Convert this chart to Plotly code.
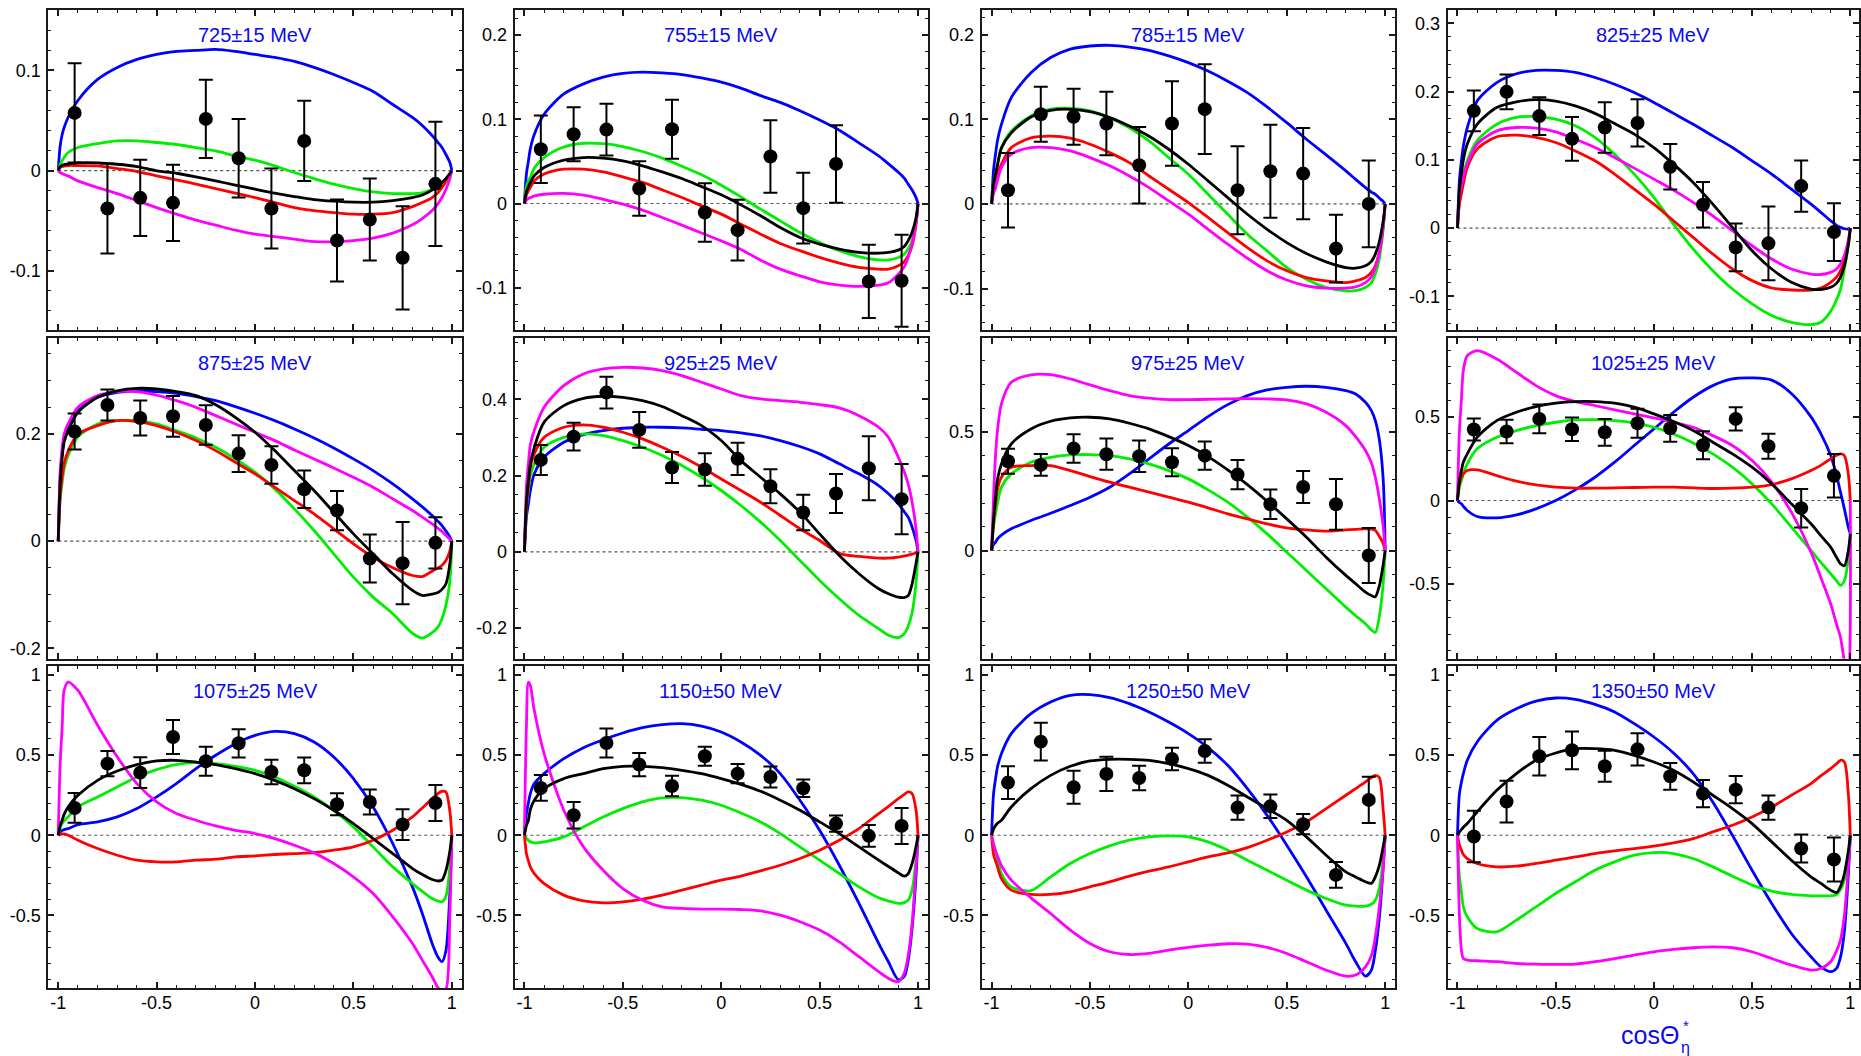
import plotly.graph_objects as go

# ---------------- data ----------------
X_PTS = [-0.9167, -0.75, -0.5833, -0.4167, -0.25, -0.0833, 0.0833, 0.25, 0.4167, 0.5833, 0.75, 0.9167]
X_GRID = [-1, -0.99, -0.98, -0.97, -0.95, -0.9, -0.8, -0.7, -0.6, -0.5, -0.4, -0.3, -0.2, -0.1, 0,
          0.1, 0.2, 0.3, 0.4, 0.5, 0.6, 0.7, 0.8, 0.85, 0.9, 0.93, 0.95, 0.97, 0.99, 1]

TITLES = ["725\u00b115 MeV", "755\u00b115 MeV", "785\u00b115 MeV", "825\u00b125 MeV",
          "875\u00b125 MeV", "925\u00b125 MeV", "975\u00b125 MeV", "1025\u00b125 MeV",
          "1075\u00b125 MeV", "1150\u00b150 MeV", "1250\u00b150 MeV", "1350\u00b150 MeV"]

X_TICKS = [-1, -0.5, 0, 0.5, 1]
X_TICKTEXT = ["-1", "-0.5", "0", "0.5", "1"]

# panel 1: 725 MeV
P1_Y = [0.0576, -0.038, -0.0273, -0.0323, 0.0516, 0.0123, -0.038, 0.0296, -0.0699, -0.049, -0.0872, -0.0133]
P1_E = [0.0496, 0.045, 0.038, 0.038, 0.039, 0.0393, 0.040, 0.040, 0.041, 0.041, 0.0516, 0.062]
P1_BLUE = [0, 0.025, 0.036, 0.043, 0.053, 0.07, 0.091, 0.103, 0.111, 0.116, 0.119, 0.120, 0.121, 0.119, 0.116,
           0.113, 0.109, 0.103, 0.096, 0.088, 0.079, 0.066, 0.053, 0.045, 0.035, 0.028, 0.023, 0.016, 0.008, 0]
P1_GREEN = [0, 0.006, 0.01, 0.013, 0.018, 0.023, 0.027, 0.0296, 0.0296, 0.028, 0.026, 0.023, 0.0196, 0.0146, 0.0103,
            0.0047, -0.002, -0.008, -0.0136, -0.018, -0.0213, -0.023, -0.023, -0.0222, -0.0186, -0.0155, -0.012, -0.008, -0.003, 0]
P1_BLACK = [0, 0.004, 0.005, 0.006, 0.0065, 0.0077, 0.0077, 0.0063, 0.004, -0.0003, -0.0027, -0.0063, -0.0103, -0.0146, -0.0186,
            -0.0226, -0.026, -0.029, -0.0306, -0.0316, -0.0316, -0.030, -0.027, -0.0245, -0.0196, -0.0155, -0.012, -0.008, -0.003, 0]
P1_RED = [0, 0.003, 0.004, 0.0045, 0.005, 0.005, 0.0047, 0.002, -0.001, -0.0053, -0.0093, -0.0136, -0.018, -0.0226, -0.027,
          -0.032, -0.037, -0.040, -0.042, -0.0436, -0.0436, -0.042, -0.036, -0.032, -0.027, -0.022, -0.017, -0.011, -0.004, 0]
P1_MAGENTA = [0, -0.002, -0.003, -0.004, -0.0053, -0.0103, -0.017, -0.023, -0.030, -0.037, -0.0436, -0.0496, -0.0546, -0.0596, -0.0636,
              -0.066, -0.0686, -0.071, -0.0712, -0.070, -0.0676, -0.0626, -0.0542, -0.048, -0.040, -0.033, -0.027, -0.019, -0.008, 0]

# panel 2: 755 MeV
P2_Y = [0.0644, 0.0822, 0.0877, 0.0178, 0.0881, -0.0107, -0.0316, 0.0557, -0.0055, 0.047, -0.0925, -0.0917]
P2_E = [0.040, 0.032, 0.0308, 0.0324, 0.035, 0.0348, 0.036, 0.043, 0.042, 0.046, 0.0435, 0.0545]
P2_BLUE = [0, 0.035, 0.05, 0.065, 0.082, 0.106, 0.13, 0.142, 0.150, 0.1545, 0.156, 0.155, 0.153, 0.149, 0.144,
           0.137, 0.128, 0.12, 0.110, 0.099, 0.087, 0.072, 0.0565, 0.047, 0.037, 0.03, 0.023, 0.016, 0.007, 0]
P2_GREEN = [0, 0.02, 0.027, 0.031, 0.042, 0.0545, 0.067, 0.0715, 0.071, 0.0676, 0.0617, 0.0538, 0.0443, 0.034, 0.0217,
            0.0079, -0.0067, -0.0206, -0.0344, -0.0462, -0.056, -0.063, -0.067, -0.067, -0.064, -0.06, -0.054, -0.044, -0.022, 0]
P2_BLACK = [0, 0.014, 0.02, 0.025, 0.033, 0.0427, 0.0514, 0.0545, 0.0538, 0.0506, 0.0447, 0.0375, 0.0296, 0.020, 0.0103,
            -0.0016, -0.0146, -0.0285, -0.0403, -0.0482, -0.054, -0.058, -0.059, -0.058, -0.0553, -0.051, -0.044, -0.034, -0.017, 0]
P2_RED = [0, 0.01, 0.015, 0.019, 0.027, 0.035, 0.0407, 0.0407, 0.0375, 0.0316, 0.025, 0.0162, 0.0071, -0.0028, -0.0126,
          -0.0245, -0.0364, -0.0474, -0.056, -0.064, -0.0708, -0.0759, -0.0779, -0.078, -0.074, -0.069, -0.062, -0.05, -0.025, 0]
P2_MAGENTA = [0, 0.004, 0.006, 0.007, 0.009, 0.011, 0.012, 0.0099, 0.005, -0.0008, -0.0079, -0.0166, -0.0257, -0.035, -0.0443,
              -0.0545, -0.0672, -0.0779, -0.0858, -0.0929, -0.0968, -0.0984, -0.0968, -0.094, -0.0838, -0.075, -0.064, -0.048, -0.022, 0]

# panel 3: 785 MeV
P3_Y = [0.0161, 0.106, 0.103, 0.095, 0.0457, 0.095, 0.112, 0.0161, 0.0386, 0.0358, -0.0528, 0.0]
P3_E = [0.044, 0.0325, 0.033, 0.0374, 0.0453, 0.050, 0.053, 0.052, 0.055, 0.054, 0.040, 0.0512]
P3_BLUE = [0, 0.04, 0.0587, 0.075, 0.094, 0.1256, 0.155, 0.173, 0.183, 0.1866, 0.1874, 0.1854, 0.1815, 0.175, 0.167,
           0.157, 0.145, 0.1315, 0.1146, 0.096, 0.0764, 0.0579, 0.039, 0.029, 0.0193, 0.014, 0.0114, 0.007, 0.003, 0]
P3_GREEN = [0, 0.024, 0.035, 0.046, 0.0665, 0.086, 0.104, 0.112, 0.113, 0.11, 0.102, 0.090, 0.0744, 0.0547, 0.035,
            0.0114, -0.0122, -0.0358, -0.0555, -0.0752, -0.089, -0.0988, -0.1028, -0.1025, -0.0988, -0.093, -0.083, -0.065, -0.03, 0]
P3_BLACK = [0, 0.024, 0.035, 0.046, 0.066, 0.084, 0.1028, 0.1106, 0.1118, 0.109, 0.102, 0.092, 0.080, 0.0646, 0.0469,
            0.0272, 0.0075, -0.0122, -0.030, -0.0457, -0.0587, -0.0685, -0.0752, -0.076, -0.0732, -0.068, -0.0594, -0.045, -0.02, 0]
P3_RED = [0, 0.018, 0.027, 0.035, 0.0469, 0.0665, 0.078, 0.080, 0.0776, 0.0705, 0.0606, 0.0488, 0.033, 0.0173, 0.0016,
          -0.016, -0.034, -0.0516, -0.0673, -0.079, -0.087, -0.091, -0.093, -0.091, -0.087, -0.081, -0.073, -0.057, -0.026, 0]
P3_MAGENTA = [0, 0.012, 0.019, 0.028, 0.043, 0.0587, 0.0665, 0.0665, 0.0626, 0.0547, 0.045, 0.033, 0.0193, 0.0035, -0.0122,
              -0.030, -0.0476, -0.0642, -0.079, -0.090, -0.0969, -0.0996, -0.0996, -0.098, -0.093, -0.086, -0.075, -0.058, -0.026, 0]

# panel 4: 825 MeV
P4_Y = [0.1717, 0.1995, 0.164, 0.1307, 0.1473, 0.154, 0.0898, 0.0341, -0.0283, -0.0224, 0.0615, -0.0059]
P4_E = [0.0298, 0.0256, 0.0276, 0.032, 0.037, 0.0346, 0.0332, 0.0334, 0.035, 0.054, 0.0376, 0.0424]
P4_BLUE = [0, 0.07, 0.0985, 0.12, 0.147, 0.186, 0.213, 0.226, 0.231, 0.231, 0.228, 0.2205, 0.2107, 0.1985, 0.184,
           0.168, 0.152, 0.135, 0.118, 0.0985, 0.079, 0.057, 0.035, 0.023, 0.0107, 0.004, 0.001, -0.001, -0.0015, 0]
P4_GREEN = [0, 0.04, 0.0595, 0.078, 0.0985, 0.128, 0.152, 0.162, 0.1634, 0.1595, 0.150, 0.1327, 0.108, 0.079, 0.0449,
            0.0059, -0.0307, -0.0624, -0.0893, -0.111, -0.128, -0.138, -0.1415, -0.138, -0.122, -0.105, -0.09, -0.06, -0.025, 0]
P4_BLACK = [0, 0.055, 0.079, 0.1, 0.123, 0.152, 0.1766, 0.185, 0.188, 0.186, 0.179, 0.168, 0.153, 0.1376, 0.118,
            0.0937, 0.0668, 0.035, 0.001, -0.0332, -0.060, -0.0795, -0.0893, -0.09, -0.0868, -0.081, -0.072, -0.055, -0.025, 0]
P4_RED = [0, 0.035, 0.05, 0.065, 0.0888, 0.1156, 0.1337, 0.136, 0.1327, 0.1254, 0.113, 0.0985, 0.079, 0.057, 0.035,
          0.0107, -0.0137, -0.038, -0.060, -0.077, -0.0878, -0.0907, -0.0907, -0.088, -0.0795, -0.072, -0.0624, -0.048, -0.022, 0]
P4_MAGENTA = [0, 0.045, 0.062, 0.075, 0.0937, 0.123, 0.1424, 0.1473, 0.1463, 0.141, 0.130, 0.118, 0.1034, 0.0878, 0.0717,
              0.0556, 0.0376, 0.018, -0.0039, -0.0259, -0.0454, -0.060, -0.0673, -0.068, -0.0649, -0.06, -0.0527, -0.04, -0.018, 0]

# panel 5: 875 MeV
P5_Y = [0.2047, 0.2544, 0.230, 0.2333, 0.217, 0.1636, 0.1425, 0.097, 0.0572, -0.0323, -0.041, -0.0031]
P5_E = [0.0336, 0.029, 0.0327, 0.038, 0.0367, 0.0345, 0.035, 0.035, 0.0367, 0.045, 0.0766, 0.048]
P5_BLUE = [0, 0.12, 0.163, 0.19, 0.2127, 0.244, 0.2687, 0.278, 0.281, 0.2793, 0.276, 0.270, 0.2625, 0.2513, 0.2389,
           0.2252, 0.2096, 0.1928, 0.1742, 0.1537, 0.1319, 0.107, 0.079, 0.064, 0.0479, 0.037, 0.0292, 0.019, 0.008, 0]
P5_GREEN = [0, 0.08, 0.11, 0.135, 0.16, 0.195, 0.219, 0.2252, 0.2252, 0.219, 0.2065, 0.1928, 0.1754, 0.1537, 0.1288,
            0.0977, 0.0603, 0.0199, -0.0236, -0.0672, -0.1045, -0.1356, -0.172, -0.181, -0.171, -0.16, -0.145, -0.12, -0.075, 0]
P5_BLACK = [0, 0.11, 0.1568, 0.185, 0.2065, 0.2407, 0.2687, 0.281, 0.2855, 0.2843, 0.2793, 0.2718, 0.255, 0.2314, 0.2034,
            0.1692, 0.1319, 0.0946, 0.0541, 0.0137, -0.0236, -0.061, -0.092, -0.1014, -0.099, -0.096, -0.09, -0.08, -0.042, 0]
P5_RED = [0, 0.085, 0.12, 0.145, 0.168, 0.2, 0.2159, 0.2252, 0.2233, 0.2159, 0.2034, 0.1879, 0.1692, 0.1474, 0.1257,
          0.1008, 0.0759, 0.051, 0.023, -0.005, -0.0299, -0.0498, -0.0641, -0.066, -0.056, -0.05, -0.045, -0.036, -0.018, 0]
P5_MAGENTA = [0, 0.13, 0.1754, 0.2, 0.219, 0.25, 0.2718, 0.2793, 0.2793, 0.273, 0.2625, 0.25, 0.2345, 0.219, 0.2034,
              0.1879, 0.1704, 0.1537, 0.1369, 0.1194, 0.1008, 0.079, 0.0572, 0.045, 0.0323, 0.024, 0.018, 0.011, 0.004, 0]

# panel 6: 925 MeV
P6_Y = [0.241, 0.302, 0.4175, 0.3197, 0.221, 0.2157, 0.2437, 0.172, 0.103, 0.1528, 0.2192, 0.138]
P6_E = [0.0393, 0.0367, 0.0415, 0.047, 0.0406, 0.0424, 0.042, 0.0445, 0.0463, 0.051, 0.0838, 0.092]
P6_BLUE = [0, 0.09, 0.1258, 0.16, 0.2044, 0.248, 0.2873, 0.3074, 0.318, 0.324, 0.3266, 0.3266, 0.325, 0.3214, 0.318,
           0.3118, 0.304, 0.2917, 0.276, 0.2568, 0.2306, 0.2044, 0.1738, 0.152, 0.1258, 0.105, 0.0908, 0.065, 0.03, 0]
P6_GREEN = [0, 0.115, 0.1607, 0.2, 0.2306, 0.274, 0.30, 0.309, 0.3048, 0.2917, 0.274, 0.2524, 0.2262, 0.1956, 0.1607,
            0.1214, 0.0777, 0.0297, -0.0227, -0.0751, -0.123, -0.1668, -0.2017, -0.219, -0.225, -0.215, -0.195, -0.16, -0.08, 0]
P6_BLACK = [0, 0.13, 0.187, 0.23, 0.274, 0.34, 0.3834, 0.4026, 0.4079, 0.405, 0.3965, 0.381, 0.357, 0.331, 0.2917,
            0.239, 0.1956, 0.152, 0.104, 0.047, -0.0096, -0.0576, -0.097, -0.11, -0.119, -0.12, -0.115, -0.084, -0.03, 0]
P6_RED = [0, 0.12, 0.169, 0.22, 0.257, 0.30, 0.3266, 0.333, 0.3266, 0.3135, 0.296, 0.274, 0.2498, 0.2218, 0.191,
          0.1607, 0.130, 0.0952, 0.0603, 0.0297, -0.004, -0.0122, -0.0166, -0.0166, -0.014, -0.011, -0.009, -0.006, -0.003, 0]
P6_MAGENTA = [0, 0.17, 0.2306, 0.28, 0.318, 0.379, 0.4358, 0.4664, 0.4795, 0.4838, 0.482, 0.4751, 0.462, 0.4445, 0.427,
              0.4096, 0.4009, 0.3965, 0.392, 0.386, 0.3773, 0.357, 0.3266, 0.3, 0.248, 0.21, 0.178, 0.13, 0.06, 0]

# panel 7: 975 MeV
P7_Y = [0.3764, 0.361, 0.4298, 0.406, 0.3975, 0.372, 0.400, 0.320, 0.195, 0.268, 0.195, -0.021]
P7_E = [0.053, 0.0463, 0.06, 0.066, 0.066, 0.059, 0.06, 0.0618, 0.0625, 0.0674, 0.107, 0.116]
P7_BLUE = [0, 0.025, 0.035, 0.049, 0.065, 0.0913, 0.1264, 0.157, 0.1896, 0.2247, 0.2669, 0.323, 0.386, 0.449, 0.5056,
           0.5646, 0.615, 0.653, 0.677, 0.688, 0.6924, 0.688, 0.674, 0.66, 0.625, 0.59, 0.548, 0.47, 0.3, 0]
P7_GREEN = [0, 0.1, 0.1545, 0.2, 0.2669, 0.323, 0.372, 0.393, 0.403, 0.4045, 0.400, 0.386, 0.365, 0.337, 0.302,
            0.2556, 0.2037, 0.1404, 0.0702, -0.007, -0.0843, -0.1615, -0.2388, -0.275, -0.309, -0.335, -0.345, -0.28, -0.14, 0]
P7_BLACK = [0, 0.13, 0.2247, 0.3, 0.365, 0.449, 0.5126, 0.545, 0.559, 0.5618, 0.5548, 0.5365, 0.5126, 0.480, 0.4424,
            0.396, 0.340, 0.278, 0.2079, 0.1334, 0.0562, -0.0281, -0.105, -0.14, -0.1756, -0.19, -0.195, -0.15, -0.06, 0]
P7_RED = [0, 0.12, 0.1966, 0.26, 0.309, 0.351, 0.358, 0.358, 0.337, 0.3118, 0.288, 0.2669, 0.2458, 0.2247, 0.2037,
          0.1798, 0.1545, 0.1334, 0.1124, 0.0955, 0.0871, 0.0815, 0.0871, 0.089, 0.0913, 0.09, 0.085, 0.06, 0.03, 0]
P7_MAGENTA = [0, 0.2247, 0.4, 0.5056, 0.618, 0.709, 0.740, 0.7416, 0.7233, 0.698, 0.674, 0.653, 0.642, 0.636, 0.636,
              0.6376, 0.639, 0.640, 0.639, 0.635, 0.618, 0.583, 0.5267, 0.48, 0.4213, 0.37, 0.309, 0.22, 0.1, 0]

# panel 8: 1025 MeV
P8_Y = [0.4243, 0.4124, 0.488, 0.4263, 0.408, 0.462, 0.432, 0.3307, 0.488, 0.3247, -0.0458, 0.1474]
P8_E = [0.066, 0.07, 0.086, 0.070, 0.08, 0.087, 0.08, 0.084, 0.07, 0.075, 0.115, 0.13]
P8_BLUE = [0, -0.012, -0.02, -0.035, -0.06, -0.0956, -0.1036, -0.0857, -0.0498, 0, 0.0637, 0.139, 0.229, 0.3287, 0.428,
           0.528, 0.6175, 0.687, 0.727, 0.733, 0.72, 0.64, 0.5, 0.4, 0.27, 0.15, 0.05, -0.05, -0.16, -0.2]
P8_GREEN = [0, 0.08, 0.1195, 0.16, 0.219, 0.309, 0.378, 0.418, 0.448, 0.468, 0.482, 0.484, 0.478, 0.464, 0.438,
            0.398, 0.3446, 0.279, 0.199, 0.0996, -0.02, -0.159, -0.299, -0.37, -0.438, -0.48, -0.508, -0.48, -0.35, -0.26]
P8_BLACK = [0, 0.12, 0.179, 0.23, 0.279, 0.378, 0.478, 0.528, 0.562, 0.582, 0.5916, 0.5916, 0.582, 0.558, 0.518,
            0.472, 0.418, 0.3486, 0.279, 0.199, 0.0996, -0.02, -0.139, -0.21, -0.279, -0.34, -0.378, -0.39, -0.3, -0.2]
P8_RED = [0, 0.1, 0.139, 0.16, 0.179, 0.183, 0.149, 0.1155, 0.0936, 0.0797, 0.0737, 0.0737, 0.0757, 0.0777, 0.0797,
          0.0797, 0.0757, 0.0717, 0.0737, 0.0797, 0.0956, 0.129, 0.179, 0.21, 0.249, 0.27, 0.279, 0.269, 0.159, 0]
P8_MAGENTA = [0, 0.418, 0.6, 0.777, 0.866, 0.896, 0.8466, 0.767, 0.687, 0.6275, 0.5916, 0.5677, 0.5418, 0.518, 0.494,
              0.468, 0.438, 0.388, 0.3287, 0.239, 0.1096, -0.0697, -0.309, -0.46, -0.6175, -0.74, -0.8167, -0.96, -1.05, 0]

# panel 9: 1075 MeV
P9_Y = [0.170, 0.446, 0.390, 0.612, 0.4606, 0.5726, 0.394, 0.4046, 0.193, 0.2075, 0.0664, 0.201]
P9_E = [0.093, 0.079, 0.096, 0.106, 0.09, 0.088, 0.077, 0.08, 0.068, 0.078, 0.096, 0.112]
P9_BLUE = [0, 0.02, 0.03, 0.035, 0.0415, 0.066, 0.083, 0.114, 0.166, 0.2386, 0.3216, 0.415, 0.498, 0.5705, 0.622,
           0.647, 0.633, 0.581, 0.4876, 0.353, 0.176, -0.052, -0.3216, -0.4876, -0.674, -0.76, -0.788, -0.72, -0.36, 0]
P9_GREEN = [0, 0.05, 0.0726, 0.09, 0.114, 0.176, 0.2386, 0.301, 0.363, 0.4087, 0.44, 0.452, 0.446, 0.4295, 0.4046,
            0.363, 0.305, 0.2386, 0.1556, 0.0519, -0.0726, -0.197, -0.301, -0.35, -0.394, -0.41, -0.415, -0.38, -0.2, 0]
P9_BLACK = [0, 0.06, 0.093, 0.13, 0.176, 0.249, 0.342, 0.40, 0.44, 0.4627, 0.4668, 0.456, 0.44, 0.415, 0.384,
            0.342, 0.29, 0.228, 0.1556, 0.0726, -0.0207, -0.114, -0.2075, -0.245, -0.276, -0.285, -0.28, -0.22, -0.1, 0]
P9_RED = [0, 0.005, 0.008, 0.008, 0, -0.031, -0.083, -0.1245, -0.1556, -0.166, -0.166, -0.1556, -0.149, -0.135, -0.1286,
          -0.12, -0.114, -0.108, -0.0934, -0.0726, -0.031, 0.031, 0.114, 0.17, 0.228, 0.26, 0.274, 0.27, 0.15, 0]
P9_MAGENTA = [0, 0.45, 0.674, 0.902, 0.954, 0.902, 0.685, 0.4876, 0.3216, 0.2075, 0.135, 0.0934, 0.058, 0.031, 0.0104,
              -0.0207, -0.0622, -0.11, -0.176, -0.259, -0.363, -0.508, -0.674, -0.778, -0.882, -0.95, -0.97, -0.96, -0.5, 0]

# panel 10: 1150 MeV
P10_Y = [0.2946, 0.1245, 0.5747, 0.44, 0.307, 0.4917, 0.3838, 0.363, 0.2925, 0.0726, -0.004, 0.058]
P10_E = [0.08, 0.083, 0.09, 0.073, 0.064, 0.059, 0.06, 0.065, 0.054, 0.051, 0.067, 0.112]
P10_BLUE = [0, 0.135, 0.2, 0.259, 0.3216, 0.384, 0.477, 0.5456, 0.595, 0.637, 0.670, 0.689, 0.695, 0.68, 0.643,
            0.581, 0.498, 0.384, 0.218, 0.031, -0.187, -0.425, -0.674, -0.79, -0.9, -0.88, -0.78, -0.58, -0.25, 0]
P10_GREEN = [0, -0.02, -0.031, -0.04, -0.048, -0.0415, -0.0104, 0.0519, 0.114, 0.166, 0.2075, 0.2324, 0.2344, 0.218, 0.1867,
             0.139, 0.083, 0.0104, -0.0726, -0.1556, -0.2386, -0.3216, -0.39, -0.41, -0.425, -0.42, -0.4046, -0.34, -0.15, 0]
P10_BLACK = [0, 0.06, 0.093, 0.16, 0.218, 0.29, 0.353, 0.384, 0.415, 0.4295, 0.4295, 0.421, 0.4046, 0.384, 0.353,
             0.317, 0.274, 0.218, 0.1556, 0.083, 0.0104, -0.0726, -0.1556, -0.195, -0.2344, -0.255, -0.24, -0.176, -0.07, 0]
P10_RED = [0, -0.114, -0.16, -0.197, -0.2386, -0.301, -0.373, -0.4087, -0.421, -0.415, -0.398, -0.373, -0.342, -0.311, -0.28,
           -0.255, -0.222, -0.187, -0.145, -0.0934, -0.031, 0.0415, 0.135, 0.18, 0.228, 0.255, 0.27, 0.259, 0.156, 0]
P10_MAGENTA = [0, 0.674, 0.954, 0.933, 0.778, 0.508, 0.156, -0.0726, -0.218, -0.332, -0.4046, -0.446, -0.456, -0.46, -0.46,
               -0.4627, -0.471, -0.498, -0.539, -0.591, -0.664, -0.757, -0.85, -0.892, -0.913, -0.86, -0.75, -0.55, -0.2, 0]

# panel 11: 1250 MeV
P11_Y = [0.328, 0.583, 0.299, 0.382, 0.357, 0.475, 0.525, 0.172, 0.18, 0.0685, -0.247, 0.22]
P11_E = [0.102, 0.118, 0.103, 0.107, 0.076, 0.07, 0.073, 0.075, 0.073, 0.063, 0.08, 0.144]
P11_BLUE = [0, 0.259, 0.35, 0.425, 0.508, 0.633, 0.757, 0.83, 0.871, 0.8755, 0.857, 0.8195, 0.7676, 0.705, 0.633,
            0.546, 0.4357, 0.29, 0.124, -0.062, -0.259, -0.467, -0.674, -0.788, -0.878, -0.84, -0.72, -0.52, -0.2, 0]
P11_GREEN = [0, -0.05, -0.093, -0.15, -0.2386, -0.3216, -0.345, -0.259, -0.176, -0.114, -0.066, -0.031, -0.0104, -0.004, -0.0104,
             -0.0415, -0.093, -0.1556, -0.218, -0.28, -0.342, -0.394, -0.4357, -0.442, -0.442, -0.43, -0.4046, -0.33, -0.15, 0]
P11_BLACK = [0, 0.04, 0.06, 0.075, 0.093, 0.176, 0.29, 0.373, 0.4295, 0.4627, 0.473, 0.473, 0.467, 0.446, 0.415,
             0.373, 0.311, 0.2386, 0.166, 0.093, -0.0104, -0.1245, -0.228, -0.26, -0.29, -0.30, -0.26, -0.19, -0.07, 0]
P11_RED = [0, -0.12, -0.16, -0.197, -0.27, -0.342, -0.369, -0.369, -0.353, -0.3216, -0.29, -0.255, -0.224, -0.197, -0.166,
           -0.135, -0.11, -0.0768, -0.031, 0.0207, 0.083, 0.166, 0.249, 0.29, 0.332, 0.36, 0.373, 0.36, 0.156, 0]
P11_MAGENTA = [0, -0.06, -0.1, -0.13, -0.19, -0.28, -0.39, -0.4876, -0.591, -0.674, -0.726, -0.743, -0.7365, -0.716, -0.699,
               -0.685, -0.676, -0.678, -0.699, -0.7365, -0.788, -0.84, -0.878, -0.871, -0.82, -0.75, -0.633, -0.45, -0.2, 0]

# panel 12: 1350 MeV
P12_Y = [-0.008, 0.2095, 0.4917, 0.529, 0.4295, 0.535, 0.367, 0.259, 0.284, 0.172, -0.083, -0.1515]
P12_E = [0.16, 0.13, 0.12, 0.118, 0.097, 0.10, 0.083, 0.085, 0.085, 0.076, 0.087, 0.137]
P12_BLUE = [0, 0.259, 0.33, 0.384, 0.467, 0.581, 0.716, 0.788, 0.836, 0.855, 0.8465, 0.815, 0.768, 0.695, 0.612,
            0.5124, 0.384, 0.2075, 0, -0.218, -0.425, -0.612, -0.757, -0.82, -0.85, -0.83, -0.76, -0.6, -0.25, 0]
P12_GREEN = [0, -0.26, -0.35, -0.446, -0.508, -0.581, -0.602, -0.529, -0.446, -0.363, -0.29, -0.218, -0.166, -0.1245, -0.108,
             -0.114, -0.145, -0.197, -0.255, -0.311, -0.3485, -0.369, -0.3776, -0.378, -0.3776, -0.369, -0.34, -0.28, -0.15, 0]
P12_BLACK = [0, 0.02, 0.035, 0.05, 0.0726, 0.145, 0.28, 0.384, 0.467, 0.5124, 0.539, 0.539, 0.529, 0.498, 0.456,
             0.4046, 0.332, 0.249, 0.166, 0.0726, -0.0415, -0.1556, -0.259, -0.3, -0.342, -0.357, -0.32, -0.24, -0.1, 0]
P12_RED = [0, -0.06, -0.093, -0.12, -0.145, -0.176, -0.197, -0.193, -0.176, -0.1556, -0.135, -0.114, -0.0975, -0.083, -0.0685,
           -0.0477, -0.0207, 0.0207, 0.0622, 0.114, 0.176, 0.249, 0.3216, 0.37, 0.415, 0.445, 0.467, 0.456, 0.259, 0]
P12_MAGENTA = [0, -0.5, -0.716, -0.768, -0.778, -0.782, -0.788, -0.799, -0.803, -0.805, -0.803, -0.788, -0.768, -0.747, -0.726,
               -0.7116, -0.701, -0.695, -0.701, -0.726, -0.768, -0.809, -0.84, -0.83, -0.788, -0.72, -0.654, -0.5, -0.2, 0]

# per-panel y axis tick values / labels
Y_TICKS = [[-0.1, 0, 0.1], [-0.1, 0, 0.1, 0.2], [-0.1, 0, 0.1, 0.2], [-0.1, 0, 0.1, 0.2, 0.3],
           [-0.2, 0, 0.2], [-0.2, 0, 0.2, 0.4], [0, 0.5], [-0.5, 0, 0.5],
           [-0.5, 0, 0.5, 1], [-0.5, 0, 0.5, 1], [-0.5, 0, 0.5, 1], [-0.5, 0, 0.5, 1]]
Y_TICKTEXT = [["-0.1", "0", "0.1"], ["-0.1", "0", "0.1", "0.2"], ["-0.1", "0", "0.1", "0.2"],
              ["-0.1", "0", "0.1", "0.2", "0.3"], ["-0.2", "0", "0.2"], ["-0.2", "0", "0.2", "0.4"],
              ["0", "0.5"], ["-0.5", "0", "0.5"], ["-0.5", "0", "0.5", "1"], ["-0.5", "0", "0.5", "1"],
              ["-0.5", "0", "0.5", "1"], ["-0.5", "0", "0.5", "1"]]

# ---------------- styling / layout ----------------
FONT = "Liberation Sans, Arial, Helvetica, sans-serif"
W, H = 1861, 1056
COL_PX = [(48.45, 462.15), (515.15, 928.85), (982.8, 1396.5), (1449.2, 1861.0)]
ROW_PX = [(9.3, 329.3), (337.3, 658.3), (666.0, 988.3)]
X_RANGES = [[-1.05, 1.05], [-1.05, 1.05], [-1.05, 1.05], [-1.05, 1.0444]]
Y_RANGES = [[-0.1593, 0.1601], [-0.1501, 0.2293], [-0.149, 0.2288], [-0.1493, 0.319],
            [-0.2195, 0.3796], [-0.2803, 0.5607], [-0.456, 0.896], [-0.946, 0.972],
            [-0.954, 1.052], [-0.954, 1.052], [-0.954, 1.052], [-0.954, 1.052]]
Y_MINOR = [0.02, 0.02, 0.02, 0.02, 0.05, 0.05, 0.1, 0.1, 0.1, 0.1, 0.1, 0.1]

COLORS = {"BLUE": "#0000ff", "GREEN": "#00ee00", "RED": "#ff0000", "MAGENTA": "#ff00ff", "BLACK": "#000000"}
TITLE_COLOR = "#0a0aee"
AXC = "#1a1a1a"

PANELS = [
    (P1_Y, P1_E, P1_BLUE, P1_GREEN, P1_RED, P1_MAGENTA, P1_BLACK),
    (P2_Y, P2_E, P2_BLUE, P2_GREEN, P2_RED, P2_MAGENTA, P2_BLACK),
    (P3_Y, P3_E, P3_BLUE, P3_GREEN, P3_RED, P3_MAGENTA, P3_BLACK),
    (P4_Y, P4_E, P4_BLUE, P4_GREEN, P4_RED, P4_MAGENTA, P4_BLACK),
    (P5_Y, P5_E, P5_BLUE, P5_GREEN, P5_RED, P5_MAGENTA, P5_BLACK),
    (P6_Y, P6_E, P6_BLUE, P6_GREEN, P6_RED, P6_MAGENTA, P6_BLACK),
    (P7_Y, P7_E, P7_BLUE, P7_GREEN, P7_RED, P7_MAGENTA, P7_BLACK),
    (P8_Y, P8_E, P8_BLUE, P8_GREEN, P8_RED, P8_MAGENTA, P8_BLACK),
    (P9_Y, P9_E, P9_BLUE, P9_GREEN, P9_RED, P9_MAGENTA, P9_BLACK),
    (P10_Y, P10_E, P10_BLUE, P10_GREEN, P10_RED, P10_MAGENTA, P10_BLACK),
    (P11_Y, P11_E, P11_BLUE, P11_GREEN, P11_RED, P11_MAGENTA, P11_BLACK),
    (P12_Y, P12_E, P12_BLUE, P12_GREEN, P12_RED, P12_MAGENTA, P12_BLACK),
]

for pi, p in enumerate(PANELS):
    for ci, arr in enumerate(p[2:]):
        assert len(arr) == len(X_GRID), (pi + 1, ci, len(arr))
    assert len(p[0]) == 12 and len(p[1]) == 12, pi + 1

fig = go.Figure()
layout = dict(width=W, height=H, autosize=False, margin=dict(l=0, r=0, t=0, b=0),
              paper_bgcolor="white", plot_bgcolor="white", showlegend=False,
              font=dict(family=FONT, color="black"), shapes=[], annotations=[])

for i, p in enumerate(PANELS):
    r, c = divmod(i, 4)
    n = i + 1
    xa = "x" if n == 1 else f"x{n}"
    ya = "y" if n == 1 else f"y{n}"
    yv, ev, blue, green, red, magenta, black = p
    for arr, cname in ((blue, "BLUE"), (green, "GREEN"), (red, "RED"), (magenta, "MAGENTA"), (black, "BLACK")):
        fig.add_trace(go.Scatter(x=X_GRID, y=arr, mode="lines", xaxis=xa, yaxis=ya,
                                 line=dict(color=COLORS[cname], width=2.8, shape="spline", smoothing=0.8),
                                 hoverinfo="skip"))
    fig.add_trace(go.Scatter(x=X_PTS, y=yv, mode="markers", xaxis=xa, yaxis=ya,
                             marker=dict(size=14, color="black"),
                             error_y=dict(type="data", array=ev, visible=True, thickness=2, width=7, color="black")))

    x0, x1 = COL_PX[c]
    y0, y1 = ROW_PX[r]
    layout[f"xaxis{'' if n == 1 else n}"] = dict(
        domain=[x0 / W, x1 / W], range=X_RANGES[c], anchor=ya,
        showline=True, linewidth=2, linecolor=AXC, mirror="ticks",
        ticks="inside", ticklen=6, tickwidth=1.5, tickcolor=AXC,
        tickmode="array", tickvals=X_TICKS, ticktext=X_TICKTEXT,
        showticklabels=(r == 2), ticklabelstandoff=-3,
        tickfont=dict(size=18, color="black", family=FONT),
        minor=dict(tickmode="linear", tick0=0, dtick=0.1, ticks="inside", ticklen=3, tickwidth=1, tickcolor=AXC),
        showgrid=False, zeroline=False, fixedrange=True)
    layout[f"yaxis{'' if n == 1 else n}"] = dict(
        domain=[1 - y1 / H, 1 - y0 / H], range=Y_RANGES[i], anchor=xa,
        showline=True, linewidth=2, linecolor=AXC, mirror="ticks",
        ticks="inside", ticklen=6, tickwidth=1.5, tickcolor=AXC,
        tickmode="array", tickvals=Y_TICKS[i], ticktext=Y_TICKTEXT[i],
        ticklabelstandoff=2,
        tickfont=dict(size=18, color="black", family=FONT),
        minor=dict(tickmode="linear", tick0=0, dtick=Y_MINOR[i], ticks="inside", ticklen=3, tickwidth=1, tickcolor=AXC),
        showgrid=False, zeroline=False, fixedrange=True)
    layout["shapes"].append(dict(type="line", xref=xa, yref=ya, x0=-1, x1=1, y0=0, y1=0,
                                 line=dict(color="#555555", width=1.2, dash="dot"), layer="below"))
    layout["annotations"].append(dict(text=TITLES[i], xref=f"{xa} domain", yref=f"{ya} domain",
                                      x=0.5, y=1, yshift=-25, xanchor="center", yanchor="middle",
                                      showarrow=False, font=dict(size=20, color=TITLE_COLOR, family=FONT)))

# axis title (bottom right)
layout["annotations"].append(dict(text="cos\u0398", xref="paper", yref="paper", x=1621 / W, y=1 - 1035 / H,
                                  xanchor="left", yanchor="middle", showarrow=False,
                                  font=dict(size=25, color=TITLE_COLOR, family=FONT)))
layout["annotations"].append(dict(text="\u03b7", xref="paper", yref="paper", x=1681 / W, y=1 - 1047 / H,
                                  xanchor="left", yanchor="middle", showarrow=False,
                                  font=dict(size=16, color=TITLE_COLOR, family=FONT)))
layout["annotations"].append(dict(text="*", xref="paper", yref="paper", x=1683 / W, y=1 - 1025 / H,
                                  xanchor="left", yanchor="middle", showarrow=False,
                                  font=dict(size=15, color=TITLE_COLOR, family=FONT)))

fig.update_layout(**layout)
fig.write_html("out.html")
